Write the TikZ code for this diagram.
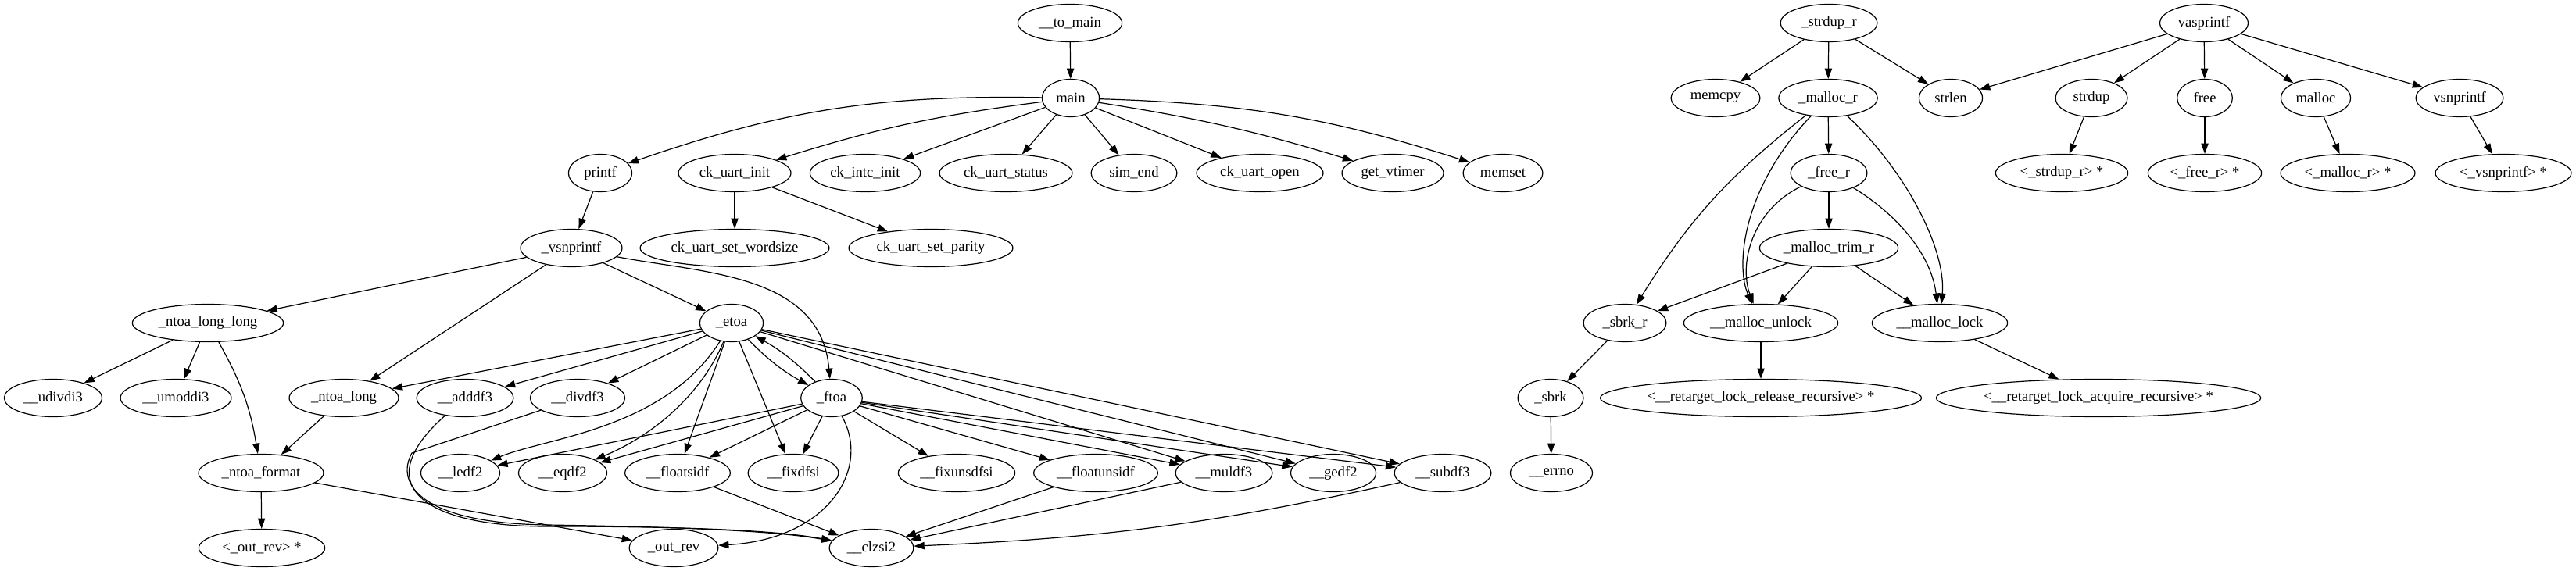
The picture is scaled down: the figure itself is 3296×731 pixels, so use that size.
\documentclass[tikz,border=0pt]{standalone}
\usepackage{fontspec}
\setmainfont{Liberation Serif}
\usetikzlibrary{arrows.meta,shapes.geometric}

\tikzset{
  fn/.style={ellipse, draw, line width=0.9pt, minimum height=36pt, inner sep=0pt,
    font=\fontsize{14}{16}\selectfont},
  call/.style={-{Triangle[length=10pt,width=7pt]}, line width=0.9pt}
}

\begin{document}
\begin{tikzpicture}[x=0.75pt, y=-0.75pt]
\useasboundingbox (0,0) rectangle (3296,731);

% rank 0
\node[fn, minimum width=100pt] (tomain) at (1369,29.5) {\_\_to\_main};
\node[fn, minimum width=93pt] (strdupr) at (2340,29.5) {\_strdup\_r};
\node[fn, minimum width=85pt] (vasprintf) at (2820,29.5) {vasprintf};
% rank 1
\node[fn, minimum width=55pt] (main) at (1370,125.5) {main};
\node[fn, minimum width=85.5pt] (memcpy) at (2195,125.5) {memcpy};
\node[fn, minimum width=95pt] (mallocr) at (2339,125.5) {\_malloc\_r};
\node[fn, minimum width=61pt] (strlen) at (2496,125.5) {strlen};
\node[fn, minimum width=69pt] (strdup) at (2676,125.5) {strdup};
\node[fn, minimum width=53pt] (free) at (2821,125.5) {free};
\node[fn, minimum width=67pt] (malloc) at (2963,125.5) {malloc};
\node[fn, minimum width=84pt] (vsnprintf) at (3147,125.5) {vsnprintf};
% rank 2
\node[fn, minimum width=61pt] (printf) at (768,221.5) {printf};
\node[fn, minimum width=108pt] (uartinit) at (940,221.5) {ck\_uart\_init};
\node[fn, minimum width=106pt] (intcinit) at (1107,221.5) {ck\_intc\_init};
\node[fn, minimum width=127.5pt] (uartstatus) at (1287,221.5) {ck\_uart\_status};
\node[fn, minimum width=82.5pt] (simend) at (1451,221.5) {sim\_end};
\node[fn, minimum width=121.5pt] (uartopen) at (1612,221.5) {ck\_uart\_open};
\node[fn, minimum width=97.5pt] (getvtimer) at (1782,221.5) {get\_vtimer};
\node[fn, minimum width=76.5pt] (memset) at (1923,221.5) {memset};
\node[fn, minimum width=73.5pt] (freer) at (2340,221.5) {\_free\_r};
\node[fn, minimum width=127pt] (strdupx) at (2638,221.5) {<\_strdup\_r> *};
\node[fn, minimum width=109pt] (freex) at (2821,221.5) {<\_free\_r> *};
\node[fn, minimum width=129pt] (mallocx) at (3004,221.5) {<\_malloc\_r> *};
\node[fn, minimum width=130.5pt] (vsnprintfx) at (3203,221.5) {<\_vsnprintf> *};
% rank 3
\node[fn, minimum width=97.5pt] (vsnp) at (731,317.5) {\_vsnprintf};
\node[fn, minimum width=181.5pt] (wordsize) at (940,317.5) {ck\_uart\_set\_wordsize};
\node[fn, minimum width=157.5pt] (parity) at (1191,317.5) {ck\_uart\_set\_parity};
\node[fn, minimum width=133pt] (trimr) at (2340,317.5) {\_malloc\_trim\_r};
% rank 4
\node[fn, minimum width=145pt] (ntoall) at (266,413.5) {\_ntoa\_long\_long};
\node[fn, minimum width=61pt] (etoa) at (936,413.5) {\_etoa};
\node[fn, minimum width=79.5pt] (sbrkr) at (2079,413.5) {\_sbrk\_r};
\node[fn, minimum width=148pt] (unlock) at (2253,413.5) {\_\_malloc\_unlock};
\node[fn, minimum width=130pt] (lock) at (2482,413.5) {\_\_malloc\_lock};
% rank 5
\node[fn, minimum width=94pt] (udivdi) at (68,509.5) {\_\_udivdi3};
\node[fn, minimum width=106.5pt] (umoddi) at (225,509.5) {\_\_umoddi3};
\node[fn, minimum width=105pt] (ntoal) at (440,509.5) {\_ntoa\_long};
\node[fn, minimum width=93pt] (adddf) at (595,509.5) {\_\_adddf3};
\node[fn, minimum width=91pt] (divdf) at (739,509.5) {\_\_divdf3};
\node[fn, minimum width=59pt] (ftoa) at (1064,509.5) {\_ftoa};
\node[fn, minimum width=63pt] (sbrk) at (1984,509.5) {\_sbrk};
\node[fn, minimum width=304.5pt] (release) at (2253,509.5) {<\_\_retarget\_lock\_release\_recursive> *};
\node[fn, minimum width=307.5pt] (acquire) at (2685,509.5) {<\_\_retarget\_lock\_acquire\_recursive> *};
% rank 6
\node[fn, minimum width=120pt] (ntoafmt) at (334,605.5) {\_ntoa\_format};
\node[fn, minimum width=76pt] (ledf) at (589,605.5) {\_\_ledf2};
\node[fn, minimum width=85pt] (eqdf) at (720,605.5) {\_\_eqdf2};
\node[fn, minimum width=101pt] (floatsidf) at (867,605.5) {\_\_floatsidf};
\node[fn, minimum width=87pt] (fixdfsi) at (1015,605.5) {\_\_fixdfsi};
\node[fn, minimum width=112pt] (fixunsdfsi) at (1224,605.5) {\_\_fixunsdfsi};
\node[fn, minimum width=119pt] (floatunsidf) at (1402,605.5) {\_\_floatunsidf};
\node[fn, minimum width=93pt] (muldf) at (1566,605.5) {\_\_muldf3};
\node[fn, minimum width=82pt] (gedf) at (1706,605.5) {\_\_gedf2};
\node[fn, minimum width=93pt] (subdf) at (1846,605.5) {\_\_subdf3};
\node[fn, minimum width=79pt] (errno) at (1985,605.5) {\_\_errno};
% rank 7
\node[fn, minimum width=121pt] (outrevx) at (335,701.5) {<\_out\_rev> *};
\node[fn, minimum width=85.5pt] (outrev) at (862,701.5) {\_out\_rev};
\node[fn, minimum width=81pt] (clzsi) at (1115,701.5) {\_\_clzsi2};

% straight calls
\foreach \a/\b in {tomain/main, main/intcinit, main/uartstatus, main/simend, main/uartopen,
    printf/vsnp, uartinit/wordsize, uartinit/parity,
    vsnp/ntoall, vsnp/ntoal, vsnp/etoa,
    ntoall/udivdi, ntoall/umoddi, ntoal/ntoafmt, ntoafmt/outrevx, ntoafmt/outrev,
    etoa/ntoal, etoa/adddf, etoa/divdf, etoa/floatsidf, etoa/fixdfsi,
    etoa/muldf, etoa/gedf, etoa/subdf,
    ftoa/ledf, ftoa/eqdf, ftoa/floatsidf, ftoa/fixdfsi, ftoa/fixunsdfsi,
    ftoa/floatunsidf, ftoa/muldf, ftoa/gedf, ftoa/subdf,
    floatsidf/clzsi, floatunsidf/clzsi, muldf/clzsi,
    strdupr/memcpy, strdupr/mallocr, strdupr/strlen,
    vasprintf/strlen, vasprintf/strdup, vasprintf/free, vasprintf/malloc, vasprintf/vsnprintf,
    strdup/strdupx, free/freex, malloc/mallocx, vsnprintf/vsnprintfx,
    mallocr/freer, freer/trimr, trimr/sbrkr, trimr/unlock, trimr/lock,
    sbrkr/sbrk, sbrk/errno, unlock/release, lock/acquire}
  \draw[call] (\a) -- (\b);

% bent calls
\draw[call] (main) to[bend right=10] (printf);
\draw[call] (main) to[bend right=5] (uartinit);
\draw[call] (main) to[bend left=4] (getvtimer);
\draw[call] (main) to[bend left=8] (memset);
\draw[call] (ntoall) to[bend left=10] (ntoafmt);
\draw[call] (etoa) to[bend right=8] (ftoa);
\draw[call] (ftoa) to[bend right=8] (etoa);
\draw[call] (subdf) to[bend left=5] (clzsi);
\draw[call] (mallocr) to[bend right=10] (sbrkr);

\draw[call] (vsnp) .. controls (900,350) and (1050,350) .. (ftoa);
\draw[call] (etoa) .. controls (850,550) and (700,560) .. (ledf);
\draw[call] (etoa) .. controls (895,510) and (830,560) .. (eqdf);
\draw[call] (ftoa) .. controls (1115,600) and (1060,690) .. (outrev);
\draw[call] (adddf) .. controls (470,620) and (540,674) .. (700,674)
  .. controls (900,674) and (1000,680) .. (clzsi);
\draw[call] (divdf) -- (527,580) .. controls (505,620) and (540,670) .. (700,672)
  .. controls (900,675) and (1000,681) .. (clzsi);

\draw[call] (mallocr) .. controls (2230,240) and (2220,340) .. (unlock);
\draw[call] (freer) .. controls (2240,270) and (2225,340) .. (unlock);
\draw[call] (mallocr) .. controls (2440,220) and (2490,320) .. (lock);
\draw[call] (freer) .. controls (2420,270) and (2470,320) .. (lock);
\end{tikzpicture}
\end{document}
